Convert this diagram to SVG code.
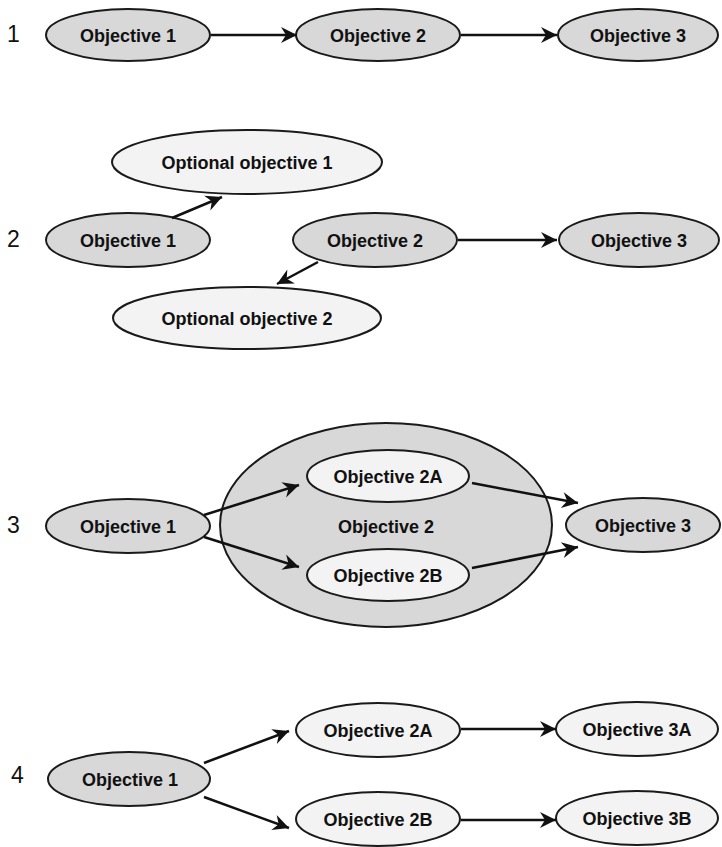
<svg xmlns="http://www.w3.org/2000/svg" width="722" height="847" viewBox="0 0 722 847">
  <style>
    .main { fill: #d8d8d8; stroke: #1a1a1a; stroke-width: 2; }
    .light { fill: #f3f3f3; stroke: #1a1a1a; stroke-width: 2; }
    .lbl { font-family: "Liberation Sans", Arial, sans-serif; font-weight: bold; font-size: 18px; fill: #111; text-anchor: middle; }
    .num { font-family: "Liberation Sans", Arial, sans-serif; font-size: 23px; fill: #111; }
    .conn { stroke: #111; stroke-width: 2.5; fill: none; marker-end: url(#arrow); }
  </style>
  <defs>
    <marker id="arrow" markerUnits="userSpaceOnUse" markerWidth="18" markerHeight="18" refX="17" refY="9" orient="auto">
      <path d="M1,1 L17,9 L1,17 L6,9 Z" fill="#111"/>
    </marker>
  </defs>

  <rect width="722" height="847" fill="#ffffff"/>

  <!-- section numbers -->
  <g id="numbers">
    <text class="num" x="7" y="42">1</text>
    <text class="num" x="7" y="247">2</text>
    <text class="num" x="7" y="533">3</text>
    <text class="num" x="11" y="783">4</text>
  </g>

  <!-- row 1: linear chain -->
  <g id="r1-obj1"><ellipse class="main" cx="128" cy="35" rx="82" ry="26"/><text class="lbl" x="128" y="42">Objective 1</text></g>
  <g id="r1-obj2"><ellipse class="main" cx="378" cy="35" rx="82" ry="26"/><text class="lbl" x="378" y="42">Objective 2</text></g>
  <g id="r1-obj3"><ellipse class="main" cx="638" cy="35" rx="80" ry="26"/><text class="lbl" x="638" y="42">Objective 3</text></g>

  <!-- row 2: optional objectives -->
  <g id="r2-opt1"><ellipse class="light" cx="247" cy="162" rx="135" ry="32"/><text class="lbl" x="247" y="169">Optional objective 1</text></g>
  <g id="r2-obj1"><ellipse class="main" cx="128" cy="240" rx="82" ry="27"/><text class="lbl" x="128" y="247">Objective 1</text></g>
  <g id="r2-obj2"><ellipse class="main" cx="375" cy="240" rx="82" ry="27"/><text class="lbl" x="375" y="247">Objective 2</text></g>
  <g id="r2-obj3"><ellipse class="main" cx="639" cy="240" rx="80" ry="27"/><text class="lbl" x="639" y="247">Objective 3</text></g>
  <g id="r2-opt2"><ellipse class="light" cx="247" cy="318" rx="134" ry="31"/><text class="lbl" x="247" y="325">Optional objective 2</text></g>

  <!-- row 3: objective 2 split into parallel parts -->
  <g id="r3-obj2"><ellipse class="main" cx="386" cy="525" rx="166" ry="102"/><text class="lbl" x="386" y="533">Objective 2</text></g>
  <g id="r3-obj2a"><ellipse class="light" cx="388" cy="476" rx="81" ry="26"/><text class="lbl" x="388" y="483">Objective 2A</text></g>
  <g id="r3-obj2b"><ellipse class="light" cx="388" cy="575" rx="81" ry="26"/><text class="lbl" x="388" y="582">Objective 2B</text></g>
  <g id="r3-obj1"><ellipse class="main" cx="128" cy="526" rx="82" ry="27"/><text class="lbl" x="128" y="533">Objective 1</text></g>
  <g id="r3-obj3"><ellipse class="main" cx="643" cy="525" rx="77" ry="27"/><text class="lbl" x="643" y="532">Objective 3</text></g>

  <!-- row 4: branching paths -->
  <g id="r4-obj1"><ellipse class="main" cx="129" cy="779" rx="81" ry="27"/><text class="lbl" x="130" y="786">Objective 1</text></g>
  <g id="r4-obj2a"><ellipse class="light" cx="378" cy="730" rx="82" ry="27"/><text class="lbl" x="378" y="737">Objective 2A</text></g>
  <g id="r4-obj3a"><ellipse class="light" cx="637" cy="729" rx="81" ry="27"/><text class="lbl" x="637" y="736">Objective 3A</text></g>
  <g id="r4-obj2b"><ellipse class="light" cx="378" cy="819" rx="82" ry="27"/><text class="lbl" x="378" y="826">Objective 2B</text></g>
  <g id="r4-obj3b"><ellipse class="light" cx="637" cy="818" rx="81" ry="27"/><text class="lbl" x="637" y="825">Objective 3B</text></g>

  <!-- connectors -->
  <g id="connectors">
    <line class="conn" x1="211" y1="35" x2="297" y2="35"/>
    <line class="conn" x1="461" y1="35" x2="557" y2="35"/>

    <line class="conn" x1="172" y1="218" x2="222" y2="197"/>
    <line class="conn" x1="458" y1="240" x2="557" y2="240"/>
    <line class="conn" x1="318" y1="262" x2="277" y2="284"/>

    <line class="conn" x1="204" y1="515" x2="299" y2="485"/>
    <line class="conn" x1="204" y1="537" x2="299" y2="567"/>
    <line class="conn" x1="472" y1="483" x2="578" y2="503"/>
    <line class="conn" x1="472" y1="568" x2="578" y2="547"/>

    <line class="conn" x1="204" y1="763" x2="289" y2="731"/>
    <line class="conn" x1="204" y1="797" x2="289" y2="828"/>
    <line class="conn" x1="461" y1="729" x2="556" y2="729"/>
    <line class="conn" x1="461" y1="820" x2="556" y2="820"/>
  </g>
</svg>
